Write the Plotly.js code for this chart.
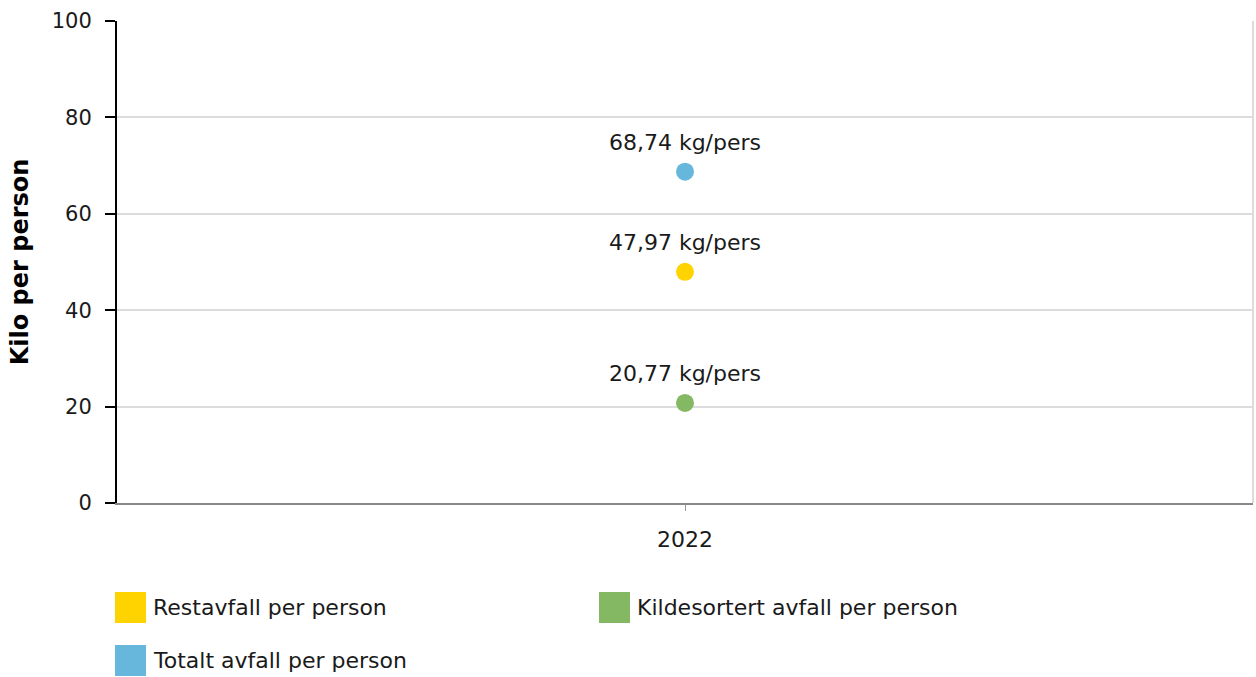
<!DOCTYPE html>
<html>
<head>
<meta charset="utf-8">
<script src="https://cdn.plot.ly/plotly-3.0.1.min.js"></script>
<style>html,body{margin:0;padding:0;background:#fff;}#chart{width:1256px;height:677px;}</style>
</head>
<body>
<div id="chart"></div>
<script>
const categories = ['2022'];
const seriesNames = ['Restavfall per person', 'Kildesortert avfall per person', 'Totalt avfall per person'];
const restavfall = [47.97];
const kildesortert = [20.77];
const totalt = [68.74];
const labelSuffix = ' kg/pers';
const yTicks = [0, 20, 40, 60, 80, 100];

const colors = ['#ffd300', '#85b862', '#67b7dc'];
const seriesValues = [restavfall, kildesortert, totalt];
const FONT = 'DejaVu Sans, Verdana, sans-serif';

const W = 1256, H = 677;
const M = {l: 117, r: 3, t: 21, b: 174};
const plotW = W - M.l - M.r, plotH = H - M.t - M.b;
const px2x = p => (p - M.l) / plotW;
const py2y = p => 1 - (p - M.t) / plotH;

const fmt = v => v.toFixed(2).replace('.', ',') + labelSuffix;

const traces = [];
seriesValues.forEach((vals, i) => {
  traces.push({
    type: 'scatter',
    mode: 'markers',
    name: seriesNames[i],
    x: categories,
    y: vals,
    marker: {color: colors[i], size: 18},
    showlegend: false,
    hoverinfo: 'x+y+name'
  });
  // data label (transparent larger marker only sets the label offset)
  traces.push({
    type: 'scatter',
    mode: 'markers+text',
    name: seriesNames[i],
    x: categories,
    y: vals,
    text: vals.map(fmt),
    textposition: 'top center',
    textfont: {family: FONT, size: 22, color: '#1a1a1a'},
    marker: {color: 'rgba(0,0,0,0)', size: 24},
    showlegend: false,
    hoverinfo: 'skip'
  });
});

// Custom legend (two columns)
const legendPos = [
  {sx: 115, ty: 607},
  {sx: 599, ty: 607},
  {sx: 115, ty: 660}
];
const annotations = [];
seriesNames.forEach((n, i) => {
  const p = legendPos[i];
  annotations.push({
    xref: 'paper', yref: 'paper', x: px2x(p.sx), y: py2y(p.ty),
    xanchor: 'left', yanchor: 'middle', showarrow: false,
    text: ' ', width: 31, height: 31, bgcolor: colors[i], borderpad: 0, borderwidth: 0,
    font: {size: 10}
  });
  annotations.push({
    xref: 'paper', yref: 'paper', x: px2x(p.sx + 36), y: py2y(p.ty),
    xanchor: 'left', yanchor: 'middle', showarrow: false,
    text: n, font: {family: FONT, size: 22, color: '#1a1a1a'}
  });
});

const layout = {
  width: W, height: H,
  margin: M,
  paper_bgcolor: '#fff', plot_bgcolor: '#fff',
  font: {family: FONT, size: 22, color: '#1a1a1a'},
  showlegend: false,
  xaxis: {
    type: 'category',
    range: [-0.5, 0.5],
    showline: true, linecolor: '#888', linewidth: 2,
    ticks: 'outside', ticklen: 6, tickcolor: '#999', tickwidth: 1,
    ticklabelstandoff: 10,
    showgrid: false, zeroline: false,
    tickfont: {family: FONT, size: 22, color: '#1a1a1a'},
    fixedrange: true
  },
  yaxis: {
    range: [0, 100],
    tickvals: yTicks,
    ticktext: yTicks.map(String),
    showline: true, linecolor: '#000', linewidth: 2,
    ticks: 'outside', ticklen: 10, tickcolor: '#000', tickwidth: 2,
    ticklabelstandoff: 9,
    showgrid: true, gridcolor: '#dcdcdc', gridwidth: 2,
    zeroline: false,
    tickfont: {family: FONT, size: 21, color: '#1a1a1a'},
    title: {text: '<b>Kilo per person</b>', font: {family: FONT, size: 24, color: '#000'}, standoff: 16},
    automargin: false,
    fixedrange: true
  },
  shapes: [{
    type: 'line', xref: 'paper', yref: 'paper', x0: 1, x1: 1, y0: 0, y1: 1,
    line: {color: '#dcdcdc', width: 2}, layer: 'below'
  }],
  annotations: annotations
};

Plotly.newPlot('chart', traces, layout, {displayModeBar: false, staticPlot: false});
</script>
</body>
</html>
